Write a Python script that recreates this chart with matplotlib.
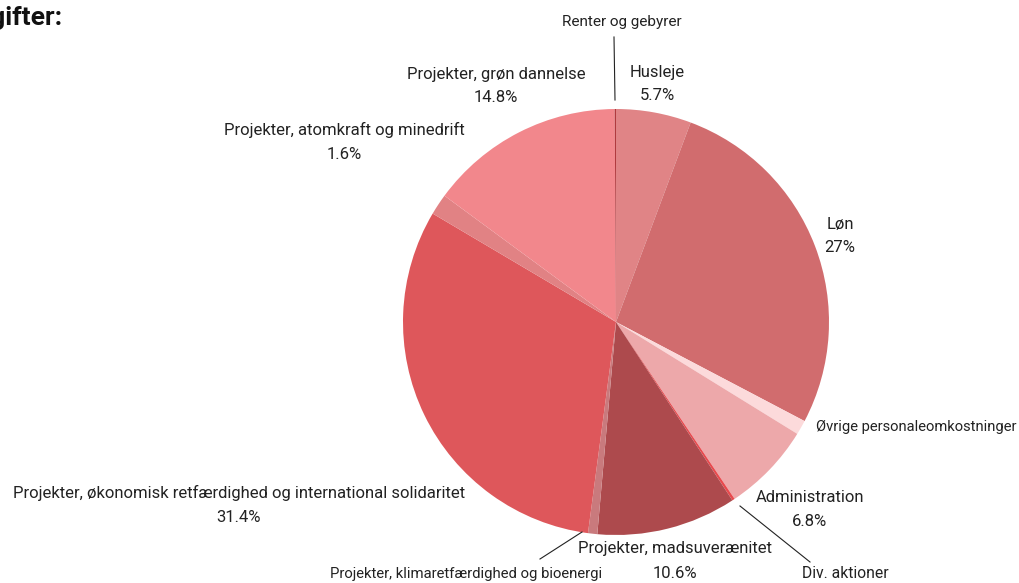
import numpy as np
import matplotlib
matplotlib.use("Agg")
import matplotlib.pyplot as plt

plt.rcParams['font.family'] = ['Roboto', 'DejaVu Sans']

# expenses, clockwise from top
labels = ['Husleje', 'Løn', 'Øvrige personaleomkostninger', 'Administration',
          'Div. aktioner', 'Projekter, madsuverænitet',
          'Projekter, klimaretfærdighed og bioenergi',
          'Projekter, økonomisk retfærdighed og international solidaritet',
          'Projekter, atomkraft og minedrift', 'Projekter, grøn dannelse',
          'Renter og gebyrer']
values = [5.7, 27, 1.1, 6.8, 0.2, 10.6, 0.7, 31.4, 1.6, 14.8, 0.1]
show_pct = [True, True, False, True, False, True, False, True, True, True, False]
colors = ['#E08486', '#D16C6E', '#FCDADB', '#EDA8AA', '#E84A4E', '#AD4A4D',
          '#C97A7D', '#DE575B', '#E18284', '#F2878C', '#B03A3E']

W, H = 1019, 583
fig = plt.figure(figsize=(W / 100, H / 100), dpi=100)
ax = fig.add_axes([0, 0, 1, 1])

cx, cy, R = 616, H - 322, 213
wedges, _ = ax.pie(values, colors=colors, startangle=90, counterclock=False,
                   center=(cx, cy), radius=R, frame=True,
                   wedgeprops=dict(linewidth=0))
ax.set_xlim(0, W)
ax.set_ylim(0, H)
ax.set_aspect('equal')
ax.axis('off')

# label layout (pixel positions, y from top) and leader lines
layout = {
    'Husleje': (657, 84, 'center', 12),
    'Løn': (840, 236, 'center', 12),
    'Øvrige personaleomkostninger': (1017, 427, 'right', 10.6),
    'Administration': (810, 509, 'center', 12),
    'Div. aktioner': (845, 573, 'center', 11.3),
    'Projekter, madsuverænitet': (675, 561, 'center', 12),
    'Projekter, klimaretfærdighed og bioenergi': (466, 574, 'center', 10.7),
    'Projekter, økonomisk retfærdighed og international solidaritet': (239, 505, 'center', 12),
    'Projekter, atomkraft og minedrift': (344, 142, 'center', 12),
    'Projekter, grøn dannelse': (496, 86, 'center', 12),
    'Renter og gebyrer': (622, 22, 'center', 11),
}
leaders = {
    'Renter og gebyrer': ((614, 37), (615, 100)),
    'Div. aktioner': ((810, 562), (740, 506)),
    'Projekter, klimaretfærdighed og bioenergi': ((540, 559), (582, 532)),
}

txt = '#222222'
for lab, v, sp in zip(labels, values, show_pct):
    x, y, ha, fs = layout[lab]
    s = lab + '\n' + f'{v:g}%' if sp else lab
    ax.text(x, H - y, s, ha=ha, va='center', fontsize=fs, color=txt,
            linespacing=1.75, multialignment='center')
    if lab in leaders:
        (x0, y0), (x1, y1) = leaders[lab]
        ax.plot([x0, x1], [H - y0, H - y1], color='#222222', lw=0.8)

ax.text(63, H - 18, 'Udgifter:', ha='right', va='center', fontsize=19,
        fontweight='bold', color='#111111')

fig.savefig('out.png', dpi=100)
